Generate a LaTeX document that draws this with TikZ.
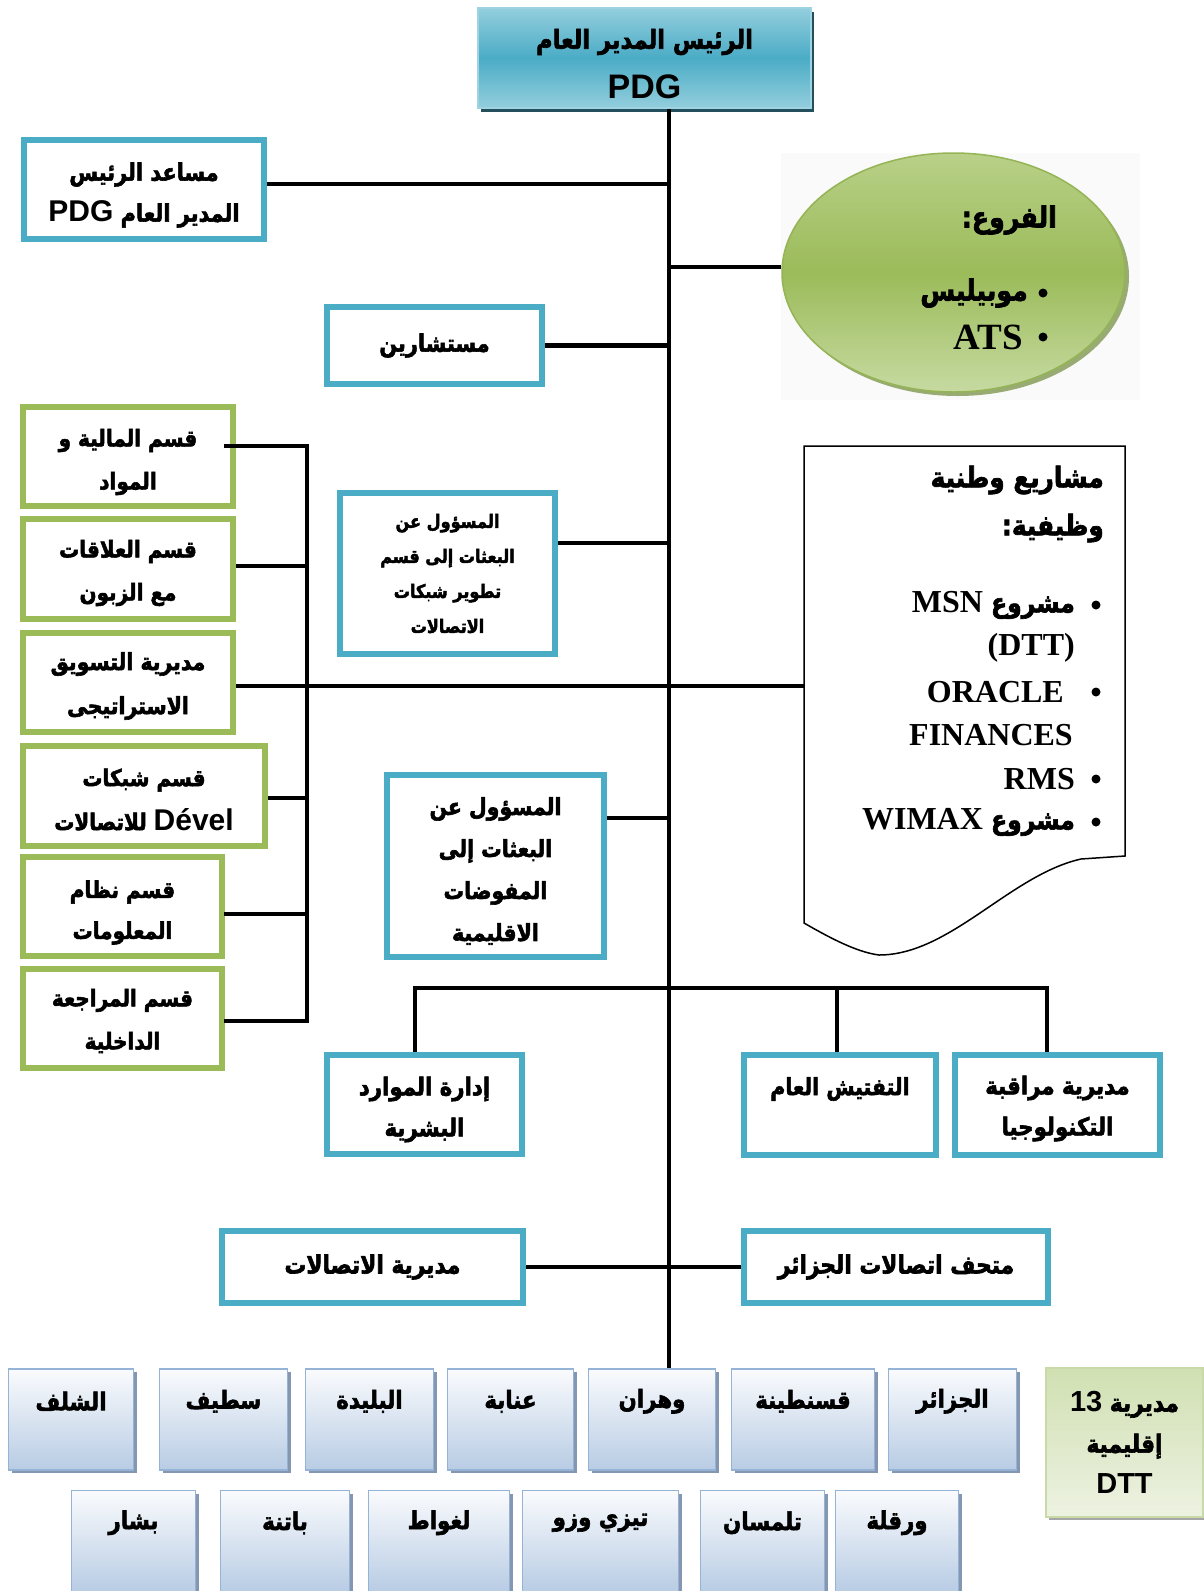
\documentclass[tikz,border=0pt]{standalone}
\usepackage{fontspec}
\usepackage{graphicx}
\usetikzlibrary{shadows,shapes.geometric}
\TeXXeTstate=1
\newfontfamily\arfont[Script=Arabic, BoldFeatures={FakeBold=2.5}]{DejaVu Sans}
\newfontfamily\lsans{Liberation Sans}
\newfontfamily\lserif{Liberation Serif}
% Arabic run: bold, slightly condensed (direction is given in the text itself)
\newcommand\AR[1]{\scalebox{0.87}[1]{\arfont\bfseries #1}}
% Latin runs at a given size: sans and serif
\newcommand\LS[2]{{\lsans\bfseries\fontsize{#1}{#1}\selectfont #2}}
\newcommand\LT[2]{{\lserif\bfseries\fontsize{#1}{#1}\selectfont #2}}
\newcommand\fs[2]{\fontsize{#1}{#2}\selectfont}

\definecolor{acBlue}{HTML}{4BACC6}
\definecolor{acGreen}{HTML}{9BBB59}
\definecolor{pdgLight}{HTML}{93CEDD}
\definecolor{pdgMid}{HTML}{4BACC6}
\definecolor{pdgEdge}{HTML}{9ED3E1}
\definecolor{pdgShadow}{HTML}{23505C}
\definecolor{elTop}{HTML}{B8D088}
\definecolor{elMid}{HTML}{9BBB59}
\definecolor{elBot}{HTML}{C6DAA1}
\definecolor{elEdge}{HTML}{94B455}
\definecolor{elShadow}{HTML}{6F8A3A}
\definecolor{cityTop}{HTML}{FAFBFD}
\definecolor{cityBot}{HTML}{B8CCE4}
\definecolor{cityEdge}{HTML}{95B3D7}
\definecolor{cityShadow}{HTML}{8496B0}
\definecolor{dttTop}{HTML}{D0E0B2}
\definecolor{dttBot}{HTML}{EDF2E2}
\definecolor{dttEdge}{HTML}{C9DAA8}
\definecolor{panelGray}{HTML}{FAFAFA}

\begin{document}
\begin{tikzpicture}[x=1pt, y=-1pt,
  conn/.style={line width=4.5pt},
  bluebox/.style={draw=acBlue, line width=6pt, fill=white, inner sep=0pt, align=center},
  greenbox/.style={draw=acGreen, line width=6pt, fill=white, inner sep=0pt, align=center},
  btext/.style={anchor=center, align=center, yshift=-5pt},
  pdgbox/.style={draw=pdgEdge, line width=2pt, top color=pdgLight, bottom color=pdgLight,
    middle color=pdgMid, inner sep=0pt, align=center,
    drop shadow={shadow xshift=3pt, shadow yshift=-4pt, fill=pdgShadow, opacity=1}},
  branchell/.style={ellipse, draw=elEdge, line width=1.5pt, top color=elTop, bottom color=elBot,
    middle color=elMid, inner sep=0pt,
    drop shadow={shadow xshift=4pt, shadow yshift=-4pt, fill=elShadow, opacity=.7}},
  citybox/.style={draw=cityEdge, line width=1.5pt, top color=cityTop, bottom color=cityBot,
    inner sep=0pt, minimum height=101pt,
    drop shadow={shadow xshift=3pt, shadow yshift=-3pt, fill=cityShadow, opacity=1}},
  citytext/.style={anchor=center, yshift=-33pt, font=\fs{24.5}{26}},
  dttbox/.style={draw=dttEdge, line width=1.5pt, top color=dttTop, bottom color=dttBot,
    inner sep=0pt, align=center,
    drop shadow={shadow xshift=3pt, shadow yshift=-3pt, fill=black!35, opacity=1}},
  dot/.style={circle, fill=black, inner sep=0pt, minimum size=9pt},
  rtext/.style={anchor=east, inner sep=0pt},
]
\useasboundingbox (0,0) rectangle (1203,1591);
\fill[white] (0,0) rectangle (1203,1591);

% ---------- top: general director ----------
\node[pdgbox, minimum width=333pt, minimum height=100pt,
  label={[btext, yshift=-1pt, font=\fs{26}{50}]center:{\AR{\beginR الرئيس المدير العام\endR}\\\LS{34}{PDG}}}] (pdg) at (644.5,58) {};

\coordinate (spine) at (669,0);

% ---------- staff boxes ----------
\node[bluebox, minimum width=240pt, minimum height=99pt,
  label={[btext, yshift=-0.5pt, font=\fs{24}{41}]center:{\AR{\beginR مساعد الرئيس\endR}\\\LS{30}{PDG} \AR{\beginR المدير العام\endR}}}] (asst) at (144,189.5) {};
\node[bluebox, minimum width=215pt, minimum height=77pt, font=\fs{24}{30}] (cons) at (434.5,345.5)
  {\AR{\beginR مستشارين\endR}};

% ---------- branches ellipse ----------
\fill[panelGray] (781,153) rectangle (1140,400);
\node[branchell, minimum width=343pt, minimum height=239pt] (branches) at (953.5,272.5) {};
\node[rtext, font=\fs{29}{30}] (brTitle) at (1057,220) {\AR{\beginR الفروع:\endR}};
\node[dot] (brDot1) at (1043,293) {};
\node[dot] (brDot2) at (1043,337) {};
\node[rtext, font=\fs{29}{30}] (brMob) at (1028,293) {\AR{\beginR موبيليس\endR}};
\node[rtext] (brAts) at (1023,337) {\LT{37}{ATS}};

% ---------- green departments ----------
\node[greenbox, minimum width=210pt, minimum height=99pt,
  label={[btext, yshift=-0.5pt, font=\fs{23}{43}]center:{\AR{\beginR قسم المالية و\endR}\\\AR{\beginR المواد\endR}}}] (g1) at (128,456.5) {};
\node[greenbox, minimum width=210pt, minimum height=100pt,
  label={[btext, yshift=1pt, font=\fs{23}{43}]center:{\AR{\beginR قسم العلاقات\endR}\\\AR{\beginR مع الزبون\endR}}}] (g2) at (128,569) {};
\node[greenbox, minimum width=210pt, minimum height=99pt,
  label={[btext, yshift=1.5pt, font=\fs{23.5}{44}]center:{\AR{\beginR مديرية التسويق\endR}\\\AR{\beginR الاستراتيجى\endR}}}] (g3) at (128,682.5) {};
\node[greenbox, minimum width=242pt, minimum height=100pt,
  label={[btext, yshift=1.5pt, font=\fs{23}{44}]center:{\AR{\beginR قسم شبكات\endR}\\\AR{\beginR للاتصالات\endR} \LS{30}{Dével}}}] (g4) at (144,796) {};
\node[greenbox, minimum width=199pt, minimum height=99pt,
  label={[btext, yshift=-1pt, font=\fs{23}{41}]center:{\AR{\beginR قسم نظام\endR}\\\AR{\beginR المعلومات\endR}}}] (g5) at (122.5,906.5) {};
\node[greenbox, minimum width=199pt, minimum height=99pt,
  label={[btext, yshift=2.5pt, font=\fs{23}{43}]center:{\AR{\beginR قسم المراجعة\endR}\\\AR{\beginR الداخلية\endR}}}] (g6) at (122.5,1018.5) {};

% ---------- mission heads ----------
\node[bluebox, minimum width=215pt, minimum height=161pt, font=\fs{18.5}{35}] (mis1) at (447.5,573.5)
  {\AR{\beginR المسؤول عن\endR}\\\AR{\beginR البعثات إلى قسم\endR}\\\AR{\beginR تطوير شبكات\endR}\\\AR{\beginR الاتصالات\endR}};
\node[bluebox, minimum width=217pt, minimum height=182pt,
  label={[btext, font=\fs{23.5}{42}]center:{\AR{\beginR المسؤول عن\endR}\\\AR{\beginR البعثات إلى\endR}\\\AR{\beginR المفوضات\endR}\\\AR{\beginR الاقليمية\endR}}}] (mis2) at (495.5,866) {};

% ---------- national projects sheet ----------
\node[inner sep=0pt, minimum width=321pt, minimum height=477pt] (doc) at (964.5,684.5) {};
\draw[line width=1.5pt, fill=white] (804,446) -- (1125,446) -- (1125,856) -- (1081,859)
  .. controls (1010,875) and (950,955) .. (879,955)
  .. controls (855,952) and (825,935) .. (804,923) -- cycle;
\node[rtext, font=\fs{28.5}{30}] (docT1) at (1104,480) {\AR{\beginR مشاريع وطنية\endR}};
\node[rtext, font=\fs{28.5}{30}] (docT2) at (1104,528) {\AR{\beginR وظيفية:\endR}};
\node[dot] (pd1) at (1096,605) {};
\node[dot] (pd2) at (1096,692) {};
\node[dot] (pd3) at (1096,779) {};
\node[dot] (pd4) at (1096,822) {};
\node[rtext, font=\fs{27}{30}] (pMsn) at (1075,605) {\LT{32}{MSN} \AR{\beginR مشروع\endR}};
\node[rtext] (pDtt) at (1075,648) {\LT{32}{(DTT)}};
\node[rtext] (pOra) at (1064,692) {\LT{32}{ORACLE}};
\node[rtext] (pFin) at (1073,735) {\LT{32}{FINANCES}};
\node[rtext] (pRms) at (1075,779) {\LT{32}{RMS}};
\node[rtext, font=\fs{27}{30}] (pWim) at (1075,822) {\LT{32}{WIMAX} \AR{\beginR مشروع\endR}};

% ---------- lower directorates ----------
\node[bluebox, minimum width=195pt, minimum height=99pt,
  label={[btext, font=\fs{24.5}{41}]center:{\AR{\beginR إدارة الموارد\endR}\\\AR{\beginR البشرية\endR}}}] (hr) at (424.5,1104.5) {};
\node[bluebox, minimum width=192pt, minimum height=100pt,
  label={[anchor=center, yshift=-37pt, font=\fs{23.5}{26}]north:{\AR{\beginR التفتيش العام\endR}}}] (insp) at (840,1105) {};
\node[bluebox, minimum width=205pt, minimum height=100pt,
  label={[btext, yshift=1.5pt, font=\fs{24.5}{41}]center:{\AR{\beginR مديرية مراقبة\endR}\\\AR{\beginR التكنولوجيا\endR}}}] (tech) at (1057.5,1105) {};
\node[bluebox, minimum width=301pt, minimum height=72pt, font=\fs{25}{26}] (telco) at (372.5,1267)
  {\AR{\beginR مديرية الاتصالات\endR}};
\node[bluebox, minimum width=304pt, minimum height=72pt, font=\fs{25}{26}] (museum) at (896,1267)
  {\AR{\beginR متحف اتصالات الجزائر\endR}};

% ---------- regional directorates ----------
\node[citybox, minimum width=125pt, label={[citytext]north:{\AR{\beginR الشلف\endR}}}] (chlef) at (71,1419.5) {};
\node[citybox, minimum width=128pt, label={[citytext]north:{\AR{\beginR سطيف\endR}}}] (setif) at (223.5,1419.5) {};
\node[citybox, minimum width=128pt, label={[citytext]north:{\AR{\beginR البليدة\endR}}}] (blida) at (369.5,1419.5) {};
\node[citybox, minimum width=126pt, label={[citytext]north:{\AR{\beginR عنابة\endR}}}] (annaba) at (510.5,1419.5) {};
\node[citybox, minimum width=127pt, label={[citytext]north:{\AR{\beginR وهران\endR}}}] (oran) at (652,1419.5) {};
\node[citybox, minimum width=143pt, label={[citytext]north:{\AR{\beginR قسنطينة\endR}}}] (const) at (803,1419.5) {};
\node[citybox, minimum width=128pt, label={[citytext]north:{\AR{\beginR الجزائر\endR}}}] (alger) at (952.5,1419.5) {};
\node[citybox, minimum width=124pt, label={[citytext]north:{\AR{\beginR بشار\endR}}}] (bechar) at (133.5,1541) {};
\node[citybox, minimum width=129pt, label={[citytext]north:{\AR{\beginR باتنة\endR}}}] (batna) at (285,1541) {};
\node[citybox, minimum width=141pt, label={[citytext]north:{\AR{\beginR لغواط\endR}}}] (lagh) at (439,1541) {};
\node[citybox, minimum width=156pt, label={[citytext]north:{\AR{\beginR تيزي وزو\endR}}}] (tizi) at (600.5,1541) {};
\node[citybox, minimum width=124pt, label={[citytext]north:{\AR{\beginR تلمسان\endR}}}] (tlem) at (762.5,1541) {};
\node[citybox, minimum width=123pt, label={[citytext]north:{\AR{\beginR ورقلة\endR}}}] (ouargla) at (897,1541) {};
\node[dttbox, minimum width=157pt, minimum height=149pt, font=\fs{25}{41}] (dtt) at (1124.5,1442.5)
  {\LS{29}{13} \AR{\beginR مديرية\endR}\\\AR{\beginR إقليمية\endR}\\\LS{29}{DTT}};

% ---------- connectors ----------
\draw[conn] (pdg.south -| spine) -- (oran.north -| spine);
\draw[conn] ([yshift=5.5pt]asst.east) -- ([yshift=5.5pt]asst.east -| spine);
\draw[conn] ([yshift=5.5pt]branches.west) -- ([yshift=5.5pt]branches.west -| spine);
\draw[conn] (cons.east) -- (cons.east -| spine);
\draw[conn] ([yshift=30.5pt]mis1.east) -- ([yshift=30.5pt]mis1.east -| spine);
\draw[conn] ([yshift=48pt]mis2.east) -- ([yshift=48pt]mis2.east -| spine);
\draw[conn] ([yshift=-3.5pt]g3.east) -- ([yshift=-3.5pt]g3.east -| doc.west);

\coordinate (brk) at (307,0);
\draw[conn] ([yshift=10.5pt, xshift=-12pt]g1.east) -- ([yshift=10.5pt]g1.east -| brk)
  -- ([yshift=-2.5pt]g6.east -| brk) -- ([yshift=-2.5pt, xshift=-1pt]g6.east);
\draw[conn] ([yshift=3pt]g2.east) -- ([yshift=3pt]g2.east -| brk);
\draw[conn] ([yshift=-2pt]g4.east) -- ([yshift=-2pt]g4.east -| brk);
\draw[conn] ([yshift=-7.5pt, xshift=-1pt]g5.east) -- ([yshift=-7.5pt]g5.east -| brk);

\coordinate (bar) at (0,988);
\draw[conn] ([xshift=-9.5pt]hr.north) -- ([xshift=-9.5pt]hr.north |- bar)
  -- ([xshift=-10.5pt]tech.north |- bar) -- ([xshift=-10.5pt]tech.north);
\draw[conn] ([xshift=-3pt]insp.north) -- ([xshift=-3pt]insp.north |- bar);
\draw[conn] (telco.east) -- (museum.west);
\end{tikzpicture}
\end{document}
